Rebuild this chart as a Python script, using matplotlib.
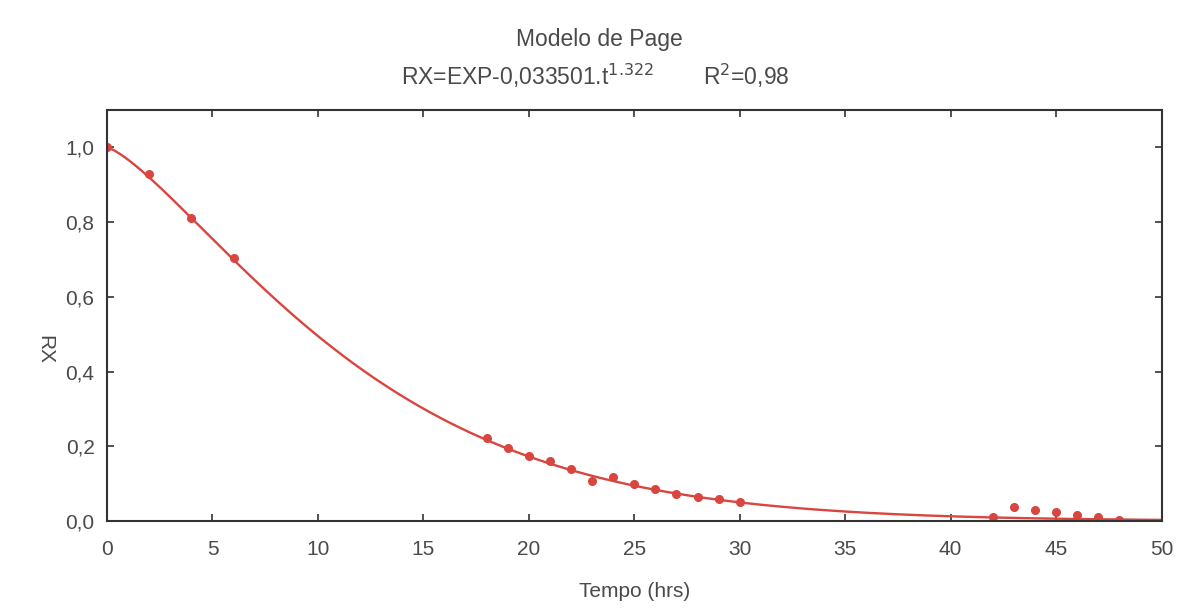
import matplotlib.pyplot as plt
import numpy as np

# dados observados (tempo em horas, razao de umidade)
tempo = [0, 2, 4, 6, 18, 19, 20, 21, 22, 23, 24, 25, 26, 27, 28, 29, 30,
         42, 43, 44, 45, 46, 47, 48]
rx = [1.0, 0.93, 0.81, 0.705, 0.222, 0.195, 0.174, 0.16, 0.139, 0.107, 0.118,
      0.099, 0.086, 0.072, 0.064, 0.059, 0.051,
      0.011, 0.037, 0.029, 0.024, 0.016, 0.011, 0.003]

# parametros do modelo de Page
k = 0.033501
n = 1.322

xticks = [0, 5, 10, 15, 20, 25, 30, 35, 40, 45, 50]
yticks = [0.0, 0.2, 0.4, 0.6, 0.8, 1.0]

plt.rcParams['font.family'] = ['Liberation Sans', 'DejaVu Sans']
txt = '#4a4a4a'
red = '#d9453f'

fig = plt.figure(figsize=(11.84, 6.15), dpi=100)
ax = fig.add_axes([0.0904, 0.153, 0.8906, 0.668])

t = np.linspace(0, 50, 400)
ax.plot(t, np.exp(-k * t ** n), color=red, linewidth=1.7)
ax.plot(tempo, rx, 'o', color=red, markersize=5.5)

ax.set_xlim(0, 50)
ax.set_ylim(0, 1.1)
ax.set_xticks(xticks)
ax.set_xticklabels([str(v) for v in xticks])
ax.set_yticks(yticks)
ax.set_yticklabels([('%.1f' % v).replace('.', ',') for v in yticks])
ax.tick_params(direction='in', top=True, right=True, length=5, width=1.2,
               color='#333333', labelsize=15, labelcolor=txt)
ax.tick_params(axis='x', pad=14)
ax.tick_params(axis='y', pad=9)
for s in ax.spines.values():
    s.set_color('#333333')
    s.set_linewidth(1.5)

ax.set_xlabel('Tempo (hrs)', fontsize=15, color=txt, labelpad=16)
fig.text(0.038, 0.431, 'RX', rotation=270, fontsize=15, color=txt,
         ha='center', va='center')

fig.text(0.506, 0.935, 'Modelo de Page', fontsize=16.5, color=txt, ha='center', va='center')
fig.text(0.4455, 0.877, r'RX=EXP-0,033501.t$^{1.322}$', fontsize=16.5, color=txt,
         ha='center', va='center')
fig.text(0.6302, 0.877, r'R$^2$=0,98', fontsize=16.5, color=txt, ha='center', va='center')

fig.savefig('out.png', dpi=100)
